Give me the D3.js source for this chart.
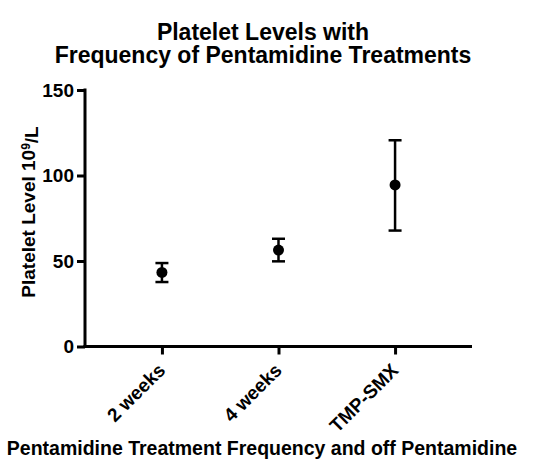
<!DOCTYPE html>
<html>

<head>
    <title>Platelet Levels</title>
    <script src="https://cdnjs.cloudflare.com/ajax/libs/d3/7.8.5/d3.min.js" type="text/JavaScript"></script>
    <style>
        body { margin: 0; background: #fff; }
        svg { font-family: "Liberation Sans", Arial, sans-serif; font-weight: bold; }
    </style>
</head>

<body>
    <div id="viz">
        <svg width="554" height="468"></svg>
    </div>
    <script>
        // values
        var groups = ["2 weeks", "4 weeks", "TMP-SMX"]
        var means = [43.3, 56.4, 94.5]
        var lows = [37.7, 49.8, 67.8]
        var highs = [48.8, 63.0, 120.6]
        var yTicks = [0, 50, 100, 150]

        var svg = d3.select("svg")

        var x = d3.scalePoint()
            .domain(groups)
            .range([85, 472])
            .padding(0.66)

        var y = d3.scaleLinear()
            .domain([0, 150])
            .range([346.5, 90])

        // titles
        var title = svg.append("text")
            .attr("text-anchor", "middle")
            .style("font-size", "23px")
        title.append("tspan").attr("x", 263).attr("y", 39.5).text("Platelet Levels with")
        title.append("tspan").attr("x", 263).attr("y", 63).text("Frequency of Pentamidine Treatments")

        svg.append("text")
            .attr("x", 262)
            .attr("y", 455)
            .attr("text-anchor", "middle")
            .style("font-size", "19.5px")
            .text("Pentamidine Treatment Frequency and off Pentamidine")

        var yTitle = svg.append("text")
            .attr("transform", "translate(35,212) rotate(-90)")
            .attr("text-anchor", "middle")
            .style("font-size", "19px")
        yTitle.append("tspan").text("Platelet Level 10")
        yTitle.append("tspan").attr("dy", "-0.45em").style("font-size", "12px").text("9")
        yTitle.append("tspan").attr("dy", "0.45em").text("/L")

        // axes
        var yAxis = svg.append("g")
            .attr("transform", "translate(85,0)")
            .call(d3.axisLeft(y).tickValues(yTicks).tickSize(8).tickPadding(3).tickSizeOuter(0))
        var xAxis = svg.append("g")
            .attr("transform", "translate(0,346.5)")
            .call(d3.axisBottom(x).tickSize(8).tickSizeOuter(0))

        svg.selectAll(".domain, .tick line")
            .style("stroke", "#000")
            .style("stroke-width", "3px")
        yAxis.select(".domain").attr("d", "M0,88.5V348")
        xAxis.select(".domain").attr("d", "M83.5,0H472")

        yAxis.selectAll("text")
            .style("font-size", "19px")
            .style("font-family", "Liberation Sans, Arial, sans-serif")
            .style("fill", "#000")

        xAxis.selectAll("text")
            .style("font-size", "19px")
            .style("font-family", "Liberation Sans, Arial, sans-serif")
            .style("fill", "#000")
            .attr("text-anchor", "end")
            .attr("dy", 0)
            .attr("y", 0)
            .attr("transform", "translate(4,25) rotate(-45)")

        // error bars
        var bars = svg.append("g")
            .selectAll("g")
            .data(groups)
            .enter()
            .append("g")
            .attr("transform", d => `translate(${x(d)},0)`)

        bars.append("line")
            .attr("y1", (d, i) => y(lows[i]))
            .attr("y2", (d, i) => y(highs[i]))
            .style("stroke", "#000").style("stroke-width", "2.5px")
        bars.append("line")
            .attr("x1", -6.5).attr("x2", 6.5)
            .attr("y1", (d, i) => y(lows[i])).attr("y2", (d, i) => y(lows[i]))
            .style("stroke", "#000").style("stroke-width", "2.5px")
        bars.append("line")
            .attr("x1", -6.5).attr("x2", 6.5)
            .attr("y1", (d, i) => y(highs[i])).attr("y2", (d, i) => y(highs[i]))
            .style("stroke", "#000").style("stroke-width", "2.5px")
        bars.append("circle")
            .attr("cy", (d, i) => y(means[i]))
            .attr("r", 5.5)
            .style("fill", "#000")
    </script>
</body>

</html>
